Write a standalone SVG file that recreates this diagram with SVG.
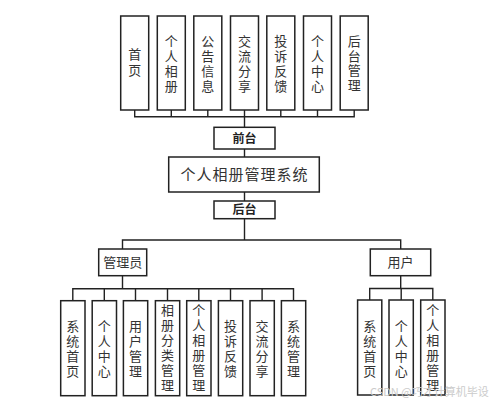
<svg xmlns="http://www.w3.org/2000/svg" width="499" height="402" viewBox="0 0 499 402">
<style>
.b{fill:#fff;stroke:#222;stroke-width:1.5}
.l{fill:none;stroke:#222;stroke-width:1.4}
.t{font-family:"Noto Sans CJK SC",sans-serif;font-size:13px;fill:#333;text-anchor:middle}
.v{font-family:"Noto Sans CJK SC",sans-serif;font-size:13px;fill:#333;text-anchor:middle;writing-mode:vertical-rl;text-orientation:upright;letter-spacing:2px}
.v1{letter-spacing:1.8px}
.v2{letter-spacing:3px}
.h{font-family:"Noto Sans CJK SC",sans-serif;font-size:12px;fill:#222;font-weight:bold;text-anchor:middle}
.m{font-family:"Noto Sans CJK SC",sans-serif;font-size:15px;fill:#333;text-anchor:middle;letter-spacing:1px}
.w{font-family:"Noto Sans CJK SC",sans-serif;font-size:11px;fill:#ccc;text-anchor:start}
</style>
<rect width="499" height="402" fill="#fff"/>
<g id="connectors" class="l">
<path d="M134.7 110V116.7H354.2V110M171.3 110V116.7M207.8 110V116.7M244.5 110V116.7M280.8 110V116.7M317.5 110V116.7"/>
<path d="M244.5 116.7V127.3M244.5 149V157M244.5 192V201M244.5 218.7V240"/>
<path d="M122.5 249V240H400.7V249"/>
<path d="M122.5 275.7V288.7M72.8 300.7V288.7H293.5V300.7M104.3 288.7V300.7M135.5 288.7V300.7M167.5 288.7V300.7M198.8 288.7V300.7M230.5 288.7V300.7M262.1 288.7V300.7"/>
<path d="M400.7 275.7V288.5M369.7 300V288.5H432.8V300M401.2 288.5V300"/>
</g>
<g id="n-home"><rect class="b" x="120.7" y="16" width="28" height="94"/><text class="v v2" x="134.7" y="63.5">首页</text></g>
<g id="n-album"><rect class="b" x="157.3" y="16" width="28" height="94"/><text class="v v1" x="171.3" y="64.5">个人相册</text></g>
<g id="n-notice"><rect class="b" x="193.8" y="16" width="28" height="94"/><text class="v v1" x="207.8" y="64.5">公告信息</text></g>
<g id="n-share"><rect class="b" x="230.5" y="16" width="28" height="94"/><text class="v v1" x="244.5" y="64.5">交流分享</text></g>
<g id="n-feedback"><rect class="b" x="266.8" y="16" width="28" height="94"/><text class="v v1" x="280.8" y="64.5">投诉反馈</text></g>
<g id="n-center"><rect class="b" x="303.5" y="16" width="28" height="94"/><text class="v v1" x="317.5" y="64.5">个人中心</text></g>
<g id="n-admin-link"><rect class="b" x="340.2" y="16" width="28" height="94"/><text class="v v1" x="354.2" y="64">后台管理</text></g>
<g id="n-front"><rect class="b" x="214" y="127.3" width="61" height="21.7"/><text class="h" x="244.5" y="142.5">前台</text></g>
<g id="n-system"><rect class="b" x="168.7" y="157" width="150.6" height="35"/><text class="m" x="244.5" y="180">个人相册管理系统</text></g>
<g id="n-back"><rect class="b" x="214" y="201" width="61" height="17.7"/><text class="h" x="244.5" y="214.3">后台</text></g>
<g id="n-manager"><rect class="b" x="98.7" y="249" width="48" height="26.7"/><text class="t" x="122.7" y="267">管理员</text></g>
<g id="n-user"><rect class="b" x="370.3" y="249" width="60.4" height="26.7"/><text class="t" x="400.5" y="267">用户</text></g>
<g id="m1"><rect class="b" x="60.7" y="300.7" width="24.3" height="95"/><text class="v" x="72.8" y="350">系统首页</text></g>
<g id="m2"><rect class="b" x="92.2" y="300.7" width="24.3" height="95"/><text class="v" x="104.3" y="350">个人中心</text></g>
<g id="m3"><rect class="b" x="123.4" y="300.7" width="24.3" height="95"/><text class="v" x="135.5" y="350">用户管理</text></g>
<g id="m4"><rect class="b" x="155.4" y="300.7" width="24.3" height="95"/><text class="v" x="167.5" y="349">相册分类管理</text></g>
<g id="m5"><rect class="b" x="186.7" y="300.7" width="24.3" height="95"/><text class="v" x="198.8" y="349">个人相册管理</text></g>
<g id="m6"><rect class="b" x="218.4" y="300.7" width="24.3" height="95"/><text class="v" x="230.5" y="350">投诉反馈</text></g>
<g id="m7"><rect class="b" x="250" y="300.7" width="24.3" height="95"/><text class="v" x="262.1" y="350">交流分享</text></g>
<g id="m8"><rect class="b" x="281.4" y="300.7" width="24.3" height="95"/><text class="v" x="293.5" y="350">系统管理</text></g>
<g id="u1"><rect class="b" x="357.6" y="300" width="24.2" height="95"/><text class="v" x="369.7" y="349.5">系统首页</text></g>
<g id="u2"><rect class="b" x="389" y="300" width="24.3" height="95"/><text class="v" x="401.2" y="349.5">个人中心</text></g>
<g id="u3"><rect class="b" x="420.7" y="300" width="24.3" height="95"/><text class="v" x="432.8" y="348.5">个人相册管理</text></g>
<text class="w" x="370" y="396">CSDN @巧才计算机毕设</text>
</svg>
